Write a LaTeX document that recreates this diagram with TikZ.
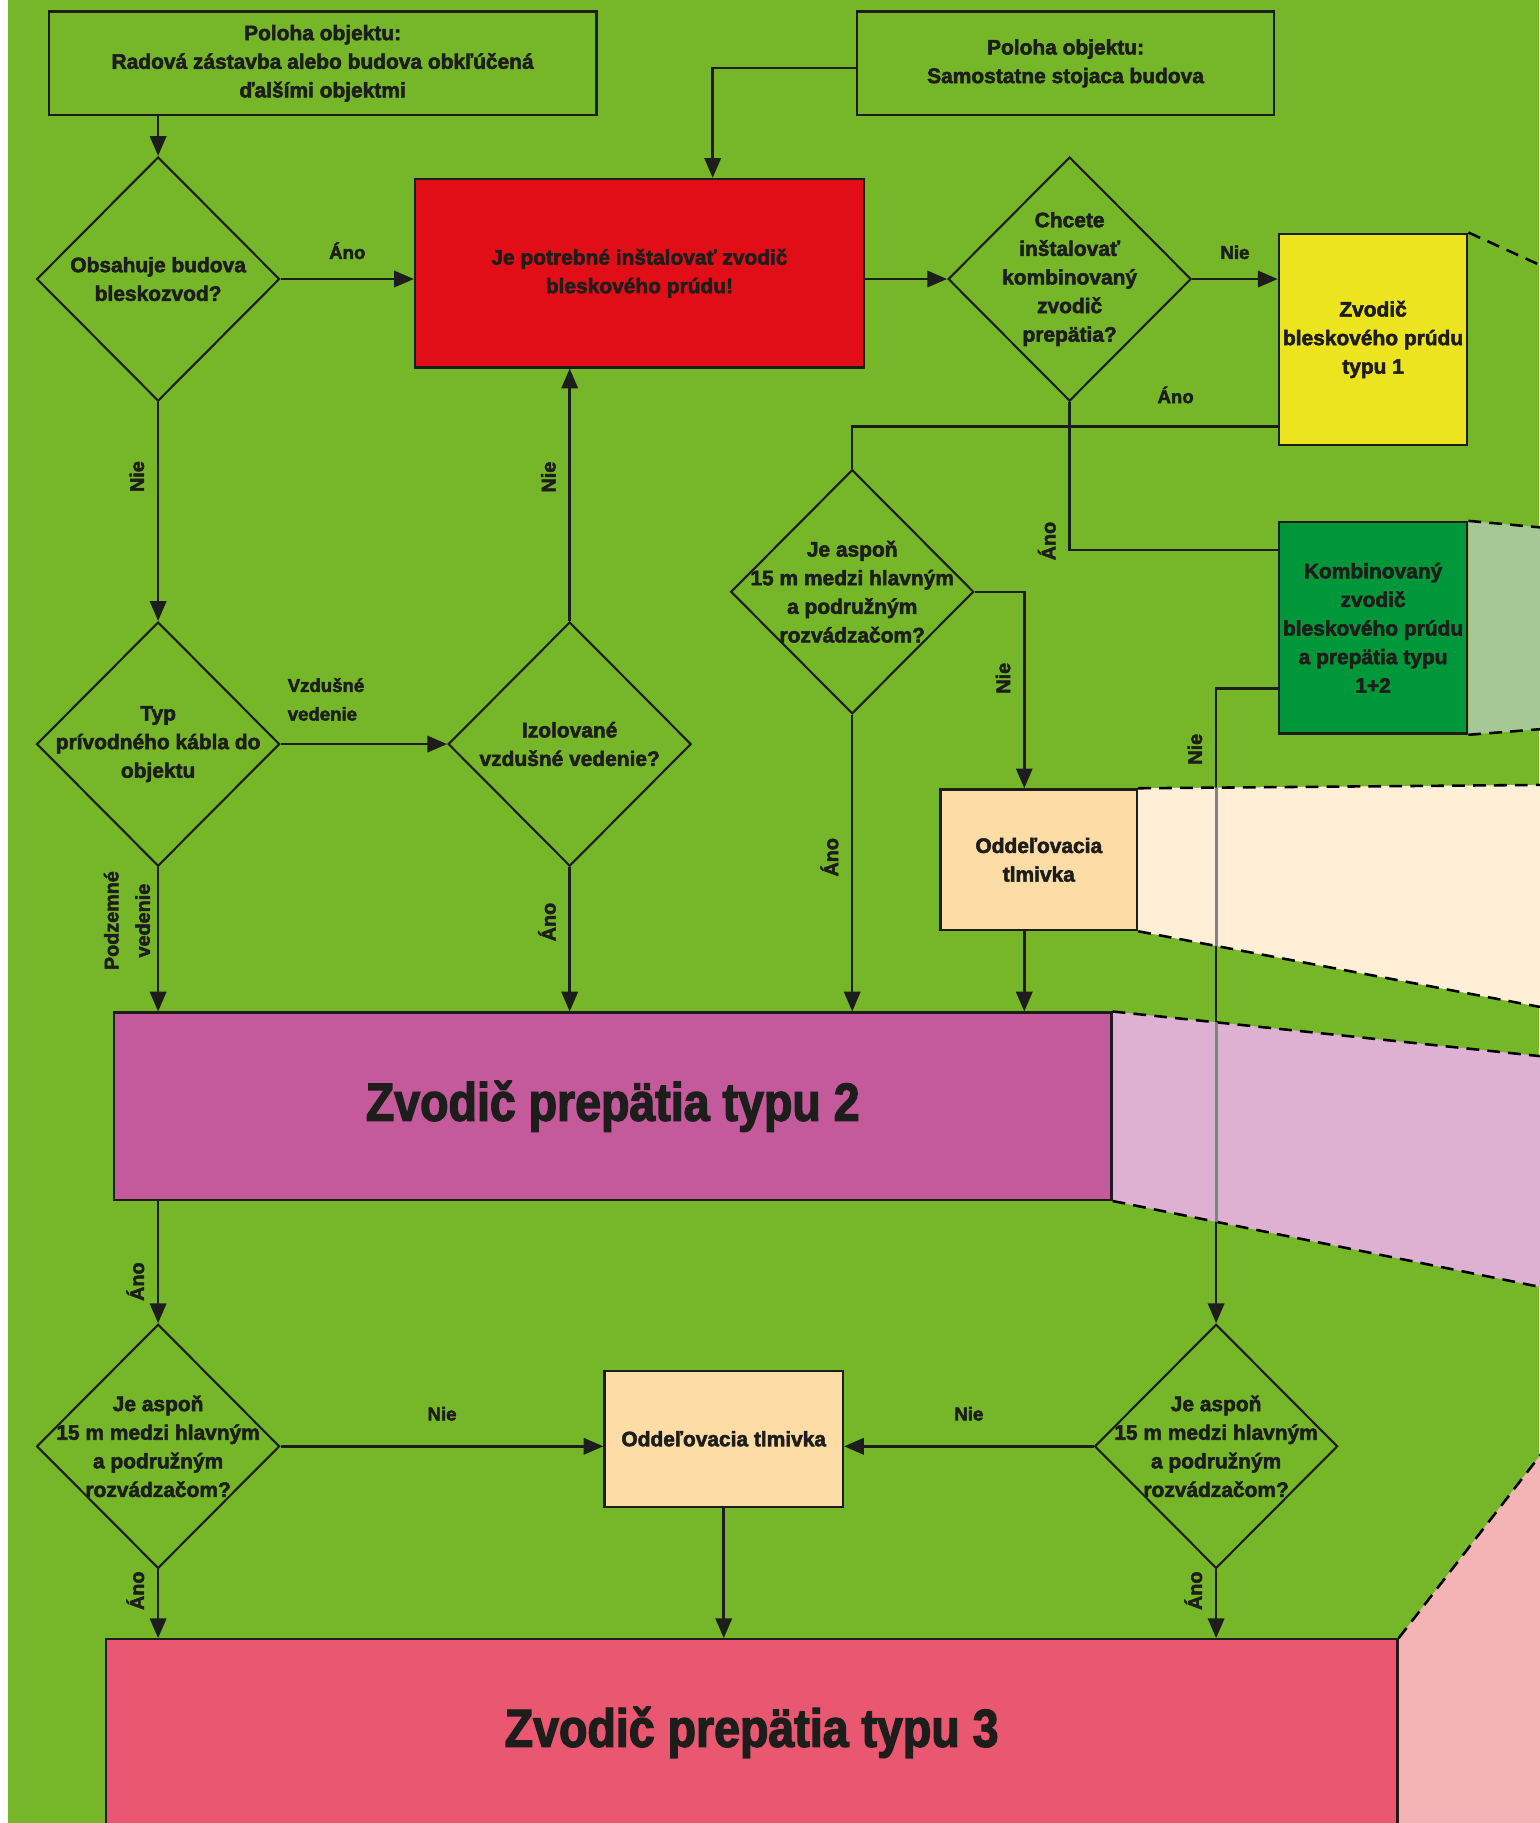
\documentclass[tikz,border=0pt]{standalone}
\usepackage{fontspec}
\setmainfont{Liberation Sans}[BoldFeatures={FakeBold=2.5}]
\newfontfamily\bigfont{Liberation Sans}[FakeStretch=0.87,BoldFeatures={FakeBold=2.5}]
\usetikzlibrary{shapes.geometric,arrows.meta,calc,backgrounds,positioning}

\definecolor{ink}{RGB}{29,29,27}
\definecolor{bggreen}{RGB}{118,183,42}
\definecolor{boxred}{RGB}{226,14,23}
\definecolor{boxyellow}{RGB}{236,228,30}
\definecolor{boxgreen}{RGB}{0,150,58}
\definecolor{boxpeach}{RGB}{253,220,166}
\definecolor{boxviolet}{RGB}{196,90,156}
\definecolor{boxrose}{RGB}{234,87,112}
\definecolor{zoomgreen}{RGB}{166,199,150}
\definecolor{zoompeach}{RGB}{255,239,214}
\definecolor{zoomviolet}{RGB}{222,177,211}
\definecolor{zoomrose}{RGB}{244,180,181}
\definecolor{linegrey}{RGB}{130,130,128}

\newcommand{\boxfont}{\fontsize{18}{24.6}\selectfont\bfseries}
\newcommand{\lblfont}{\fontsize{16}{24.6}\selectfont\bfseries}
\newcommand{\vlblfont}{\fontsize{17}{27}\selectfont\bfseries}
\newcommand{\bigboxfont}{\bigfont\fontsize{46}{50}\selectfont\bfseries}

\begin{document}
\begin{tikzpicture}[x=1pt,y=-1pt,->,>={Triangle[length=17pt,width=14pt]},line width=2.2pt,color=ink,
  decision/.style={diamond,draw,line width=1.8pt,minimum width=209pt,minimum height=210pt,inner sep=0pt},
  dtext/.style={align=center,font=\boxfont,inner sep=0pt},
  block/.style={rectangle,draw,line width=2pt,inner sep=0pt,align=center,font=\boxfont},
  lbl/.style={font=\lblfont,inner sep=0pt},
  vlbl/.style={font=\vlblfont,inner sep=0pt,rotate=90,anchor=south,outer sep=12pt,align=center},
  zoomline/.style={-,line width=2.2pt,dash pattern=on 11pt off 7pt},
  greyline/.style={-,line width=2.4pt,linegrey}]

\useasboundingbox (0,0) rectangle (1324,1568);

% questions
\node[decision,label={[dtext]center:{Obsahuje budova\\bleskozvod?}}](obsahuje) at (136,240){};
\node[decision,label={[dtext]center:{Typ\\prívodného kábla do\\objektu}}](typ)[below of=obsahuje,node distance=400pt]{};
\node[decision,label={[dtext]center:{Izolované\\vzdušné vedenie?}}](izol)[right of=typ,node distance=354pt]{};
\node[decision,label={[dtext]center:{Chcete\\inštalovať\\kombinovaný\\zvodič\\prepätia?}}](chcete)[right of=obsahuje,node distance=784pt]{};
\node[decision,label={[dtext]center:{Je aspoň\\15 m medzi hlavným\\a podružným\\rozvádzačom?}}](aspon1)[below of=chcete,node distance=269pt,xshift=-187pt]{};
\node[decision,label={[dtext]center:{Je aspoň\\15 m medzi hlavným\\a podružným\\rozvádzačom?}}](aspon2)[below of=typ,node distance=604pt]{};
\node[decision,label={[dtext]center:{Je aspoň\\15 m medzi hlavným\\a podružným\\rozvádzačom?}}](aspon3)[right of=aspon2,node distance=910pt]{};

% boxes
\node[block,minimum width=471pt,minimum height=89pt](radova)[above of=obsahuje,node distance=185.5pt,xshift=141.5pt]{Poloha objektu:\\Radová zástavba alebo budova obkľúčená\\ďalšími objektmi};
\node[block,minimum width=359pt,minimum height=89pt](samostatne)[right of=radova,node distance=639pt]{Poloha objektu:\\Samostatne stojaca budova};
\node[block,fill=boxred,minimum width=386pt,minimum height=162pt](potrebne)[right of=obsahuje,node distance=414pt,yshift=5pt]{Je potrebné inštalovať zvodič\\bleskového prúdu!};
\node[block,fill=boxyellow,minimum width=162pt,minimum height=182pt](typ1)[right of=chcete,node distance=261pt,yshift=-52pt]{Zvodič\\bleskového prúdu\\typu 1};
\node[block,fill=boxgreen,minimum width=162pt,minimum height=182pt](komb)[below of=typ1,node distance=248pt]{Kombinovaný\\zvodič\\bleskového prúdu\\a prepätia typu\\1+2};
\node[block,fill=boxpeach,minimum width=169pt,minimum height=121pt](tlmivka1)[below of=aspon1,node distance=230.5pt,xshift=160.5pt]{Oddeľovacia\\tlmivka};
\node[block,fill=boxviolet,minimum width=858pt,minimum height=161pt,font=\bigboxfont](typ2)[below of=izol,node distance=311.5pt,xshift=37pt]{Zvodič prepätia typu 2};
\node[block,fill=boxpeach,minimum width=205pt,minimum height=117pt](tlmivka2)[right of=aspon2,node distance=486.5pt,yshift=6.5pt]{Oddeľovacia tlmivka};
\node[block,fill=boxrose,minimum width=1111pt,minimum height=160pt,font=\bigboxfont](typ3)[below of=tlmivka2,node distance=252.5pt,xshift=24pt]{Zvodič prepätia typu 3};

\coordinate (tl1n) at ([xshift=-12.5pt]tlmivka1.north);
\coordinate (tl1s) at ([xshift=-12.5pt]tlmivka1.south);
\coordinate (knie) at ([yshift=-52pt]komb.west);

% zoomed areas on the right
\begin{pgfonlayer}{background}
\fill[white] (0,0) rectangle (1324,1568);
\fill[bggreen] (7,0) rectangle (1324,1568);
\coordinate (ye) at (1340,235);
\coordinate (kz1) at (1340,455);
\coordinate (kz2) at (1340,626);
\coordinate (pz1) at (1340,675);
\coordinate (pz2) at (1340,869);
\coordinate (vz1) at (1340,910);
\coordinate (vz2) at (1340,1110);
\coordinate (rz1) at (1340,1232);
\coordinate (rz2) at (1340,1600);
\fill[zoomgreen] (komb.north east) -- (kz1) -- (kz2) -- (komb.south east) -- cycle;
\fill[zoompeach] (tlmivka1.north east) -- (pz1) -- (pz2) -- (tlmivka1.south east) -- cycle;
\fill[zoomviolet] (typ2.north east) -- (vz1) -- (vz2) -- (typ2.south east) -- cycle;
\fill[zoomrose] (typ3.north east) -- (rz1) -- (rz2) -- (typ3.north east |- rz2) -- cycle;
\draw[zoomline] (typ1.north east) -- (ye);
\draw[zoomline] (komb.north east) -- (kz1) (komb.south east) -- (kz2);
\draw[zoomline] (tlmivka1.north east) -- (pz1) (tlmivka1.south east) -- (pz2);
\draw[zoomline] (typ2.north east) -- (vz1) (typ2.south east) -- (vz2);
\draw[zoomline] (typ3.north east) -- (rz1);
\end{pgfonlayer}

\begin{scope}[line width=2.2pt]
\path(radova.south -| obsahuje.north)edge(obsahuje.north)
	(obsahuje.east)edge node[lbl,above=16pt]{Áno}(obsahuje.east -| potrebne.west)
	(obsahuje.south)edge node[vlbl,pos=0.34]{Nie}(typ.north)
	(potrebne.east |- chcete.west)edge(chcete.west)
	(chcete.east)edge node[lbl,above=16pt]{Nie}(chcete.east -| typ1.west)
	(typ.east)edge node[lbl,anchor=south west,align=left,pos=0,xshift=5pt,yshift=19pt]{Vzdušné\\vedenie}(izol.west)
	(izol.north)edge node[vlbl,pos=0.57]{Nie}(izol.north |- potrebne.south)
	(typ.south)edge node[vlbl,pos=0.37,outer sep=7pt]{Podzemné\\vedenie}(typ.south |- typ2.north)
	(izol.south)edge node[vlbl,pos=0.38]{Áno}(izol.south |- typ2.north)
	(aspon1.south)edge node[vlbl,pos=0.48]{Áno}(aspon1.south |- typ2.north)
	(tl1s)edge(tl1s |- typ2.north)
	(typ2.south -| aspon2.north)edge node[vlbl,pos=0.66]{Áno}(aspon2.north)
	(aspon2.east)edge node[lbl,above=21pt]{Nie}(aspon2.east -| tlmivka2.west)
	(aspon3.west)edge node[lbl,above=21pt]{Nie}(aspon3.west -| tlmivka2.east)
	(aspon2.south)edge node[vlbl,pos=0.31]{Áno}(aspon2.south |- typ3.north)
	(tlmivka2.south)edge(tlmivka2.south |- typ3.north)
	(aspon3.south)edge node[vlbl,pos=0.31]{Áno}(aspon3.south |- typ3.north);

\draw([yshift=-4pt]samostatne.west) -| ([xshift=63pt]potrebne.north);
\draw[-](chcete.south) |- node[vlbl,pos=0.47]{Áno} ([yshift=67pt]komb.west);
\draw[-]([yshift=-75pt]typ1.west) -| node[lbl,above=19pt,pos=0.12]{Áno} (aspon1.north);
\draw(aspon1.east) -| node[vlbl,pos=0.72]{Nie} (tl1n);
\draw(knie) -| node[vlbl,pos=0.548]{Nie} (aspon3.north);
\end{scope}

% the line seen through the zoomed areas
\begin{scope}
\clip (tlmivka1.north east) -- (pz1) -- (pz2) -- (tlmivka1.south east) -- cycle;
\draw[greyline](knie) -| (aspon3.north);
\end{scope}
\begin{scope}
\clip (typ2.north east) -- (vz1) -- (vz2) -- (typ2.south east) -- cycle;
\draw[greyline](knie) -| (aspon3.north);
\end{scope}

\end{tikzpicture}
\end{document}
